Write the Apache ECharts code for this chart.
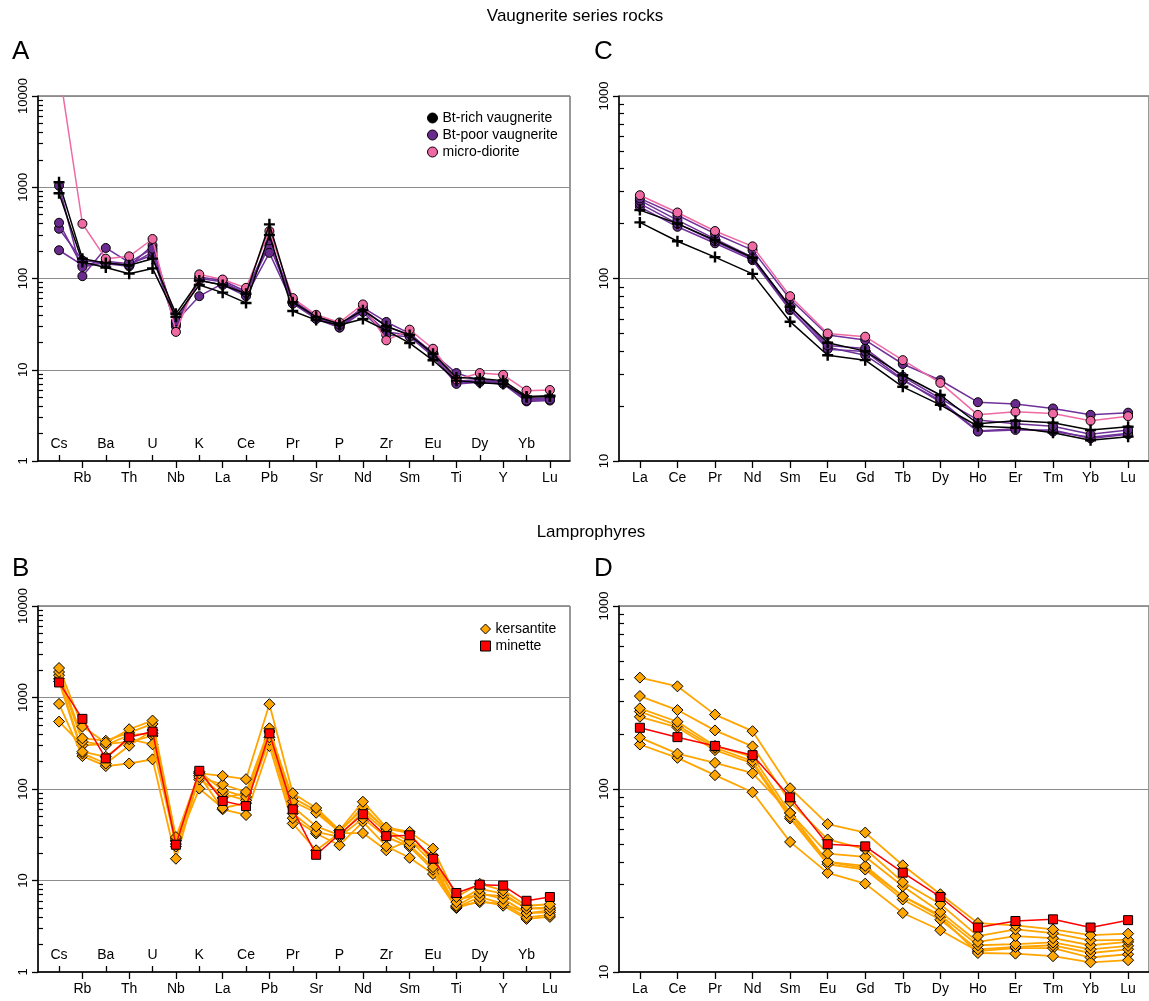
<!DOCTYPE html>
<html>
<head>
<meta charset="utf-8">
<title>Vaugnerite series rocks and lamprophyres – spider diagrams</title>
<script src="https://cdn.jsdelivr.net/npm/echarts@6/dist/echarts.min.js"></script>
<style>
  html, body { margin: 0; padding: 0; background: #fff; }
  #chart { width: 1149px; height: 1001px; }
</style>
</head>
<body>
<div id="chart"></div>
<script>
// ---- element lists -------------------------------------------------------
const traceElems = ['Cs','Rb','Ba','Th','U','Nb','K','La','Ce','Pb','Pr','Sr','P','Nd','Zr','Sm','Eu','Ti','Dy','Y','Yb','Lu'];
const reeElems   = ['La','Ce','Pr','Nd','Sm','Eu','Gd','Tb','Dy','Ho','Er','Tm','Yb','Lu'];

// ---- y-axis decades ------------------------------------------------------
const traceTicks = [1, 10, 100, 1000, 10000];
const reeTicks   = [10, 100, 1000];

// ---- A: vaugnerite series, multi-element (Cs ... Lu) ---------------------
const btRichA1  = [1135, 165, 148, 140, 165, 41, 95, 85, 68, 392, 55, 38, 32, 45, 30, 24, 15, 8.2, 8.0, 7.6, 5.1, 5.2];
const btRichA2  = [860, 152, 132, 113, 129, 38, 85, 70, 54, 300, 44, 35, 31, 36, 27, 19.6, 12.7, 7.6, 7.2, 7.0, 5.0, 5.1];
const btPoorA1  = [1040, 106, 216, 150, 212, 34, 64, 88, 70, 262, 57, 39, 31, 48, 33.4, 25, 15, 9.2, 7.6, 7.3, 4.6, 4.7];
const btPoorA2  = [408, 134, 150, 140, 195, 32, 96, 85, 64, 191, 53, 36, 29, 43, 24, 23, 14, 7.0, 7.3, 7.0, 4.5, 4.6];
const btPoorA3  = [351, 158, 145, 136, 231, 33, 100, 92, 68, 231, 54, 37, 29, 45, 26, 24, 14.5, 7.2, 7.5, 7.2, 4.7, 4.8];
const btPoorA4  = [204, 140, 155, 145, 180, 30, 104, 95, 72, 240, 58, 38, 30, 46, 30, 24, 15.5, 7.5, 7.8, 7.4, 4.8, 4.9];
const dioriteA1 = [20000, 398, 165, 175, 271, 26, 111, 97.5, 79, 331, 61, 40, 33, 52, 21, 27.5, 17, 7.8, 9.2, 8.8, 5.9, 6.0];

// ---- C: vaugnerite series, REE (La ... Lu) -------------------------------
const btRichC1  = [237, 200, 162, 130, 70, 44.5, 40, 29.5, 23, 16, 16.6, 16.2, 14.8, 15.4];
const btRichC2  = [203, 160, 131, 106, 58, 38, 35.7, 25.5, 20.3, 15.5, 15.2, 14.3, 13.0, 13.6];
const btPoorC1  = [275, 222, 176, 143, 77, 49, 46, 34, 27.7, 21, 20.5, 19.4, 17.9, 18.4];
const btPoorC2  = [268, 209, 165, 131, 70, 43, 41.4, 29, 22, 16.8, 16.0, 15.5, 14.0, 14.8];
const btPoorC3  = [257, 200, 160, 128, 68, 41, 39.8, 28, 21, 14.5, 14.8, 14.8, 13.3, 14.0];
const btPoorC4  = [247, 192, 156, 126, 67, 42, 38, 27.7, 21.5, 14.6, 15.0, 14.5, 13.5, 14.2];
const dioriteC1 = [286, 230, 182, 150, 80, 50, 48, 35.7, 26.8, 17.9, 18.6, 18.2, 16.6, 17.6];

// ---- B: lamprophyres, multi-element --------------------------------------
const kersB1 = [2100, 481, 321, 450, 560, 29.8, 148, 139, 128, 845, 90, 62, 35.4, 72.6, 38, 34, 22.3, 6.6, 9.2, 7.8, 5.3, 5.5];
const kersB2 = [1900, 358, 337, 413, 514, 28.5, 135, 112, 93, 461, 73, 55, 33.9, 64, 35.5, 27, 18.8, 5.8, 8.1, 7.2, 4.9, 5.1];
const kersB3 = [1750, 329, 302, 389, 406, 27.3, 155, 97, 82, 431, 64, 39, 31.4, 56, 34, 24.3, 14, 5.3, 7.3, 6.3, 4.4, 4.7];
const kersB4 = [1600, 256, 225, 350, 308, 25, 127, 89, 75, 367, 54, 34, 30, 47.7, 30, 23.3, 13.1, 5.1, 6.6, 5.6, 3.95, 4.2];
const kersB5 = [1500, 245, 190, 297, 440, 23.5, 101, 62, 70, 343, 48, 32.6, 24.3, 43.8, 23.7, 17.7, 11.8, 5.0, 6.0, 5.3, 3.8, 4.0];
const kersB6 = [852, 229, 178, 190, 211, 17.3, 140, 60, 52, 295, 42, 21.4, 33, 33, 21.4, 27.5, 15.5, 5.2, 5.8, 5.6, 4.4, 4.5];
const kersB7 = [545, 300, 310, 330, 380, 27, 150, 80, 90, 420, 80, 58, 35, 60, 37, 33, 16, 6.2, 7.0, 6.8, 5.0, 4.9];
const minetteB1 = [1460, 584, 216, 367, 424, 24.6, 158, 74, 65, 406, 60, 19.1, 32, 53, 30.5, 31.2, 17.3, 7.3, 9.0, 8.8, 6.0, 6.6];

// ---- D: lamprophyres, REE ------------------------------------------------
const kersD1 = [406, 364, 255, 207, 101, 64.3, 57.8, 38.3, 26.6, 18.5, 18.0, 17.1, 15.9, 16.2];
const kersD2 = [322, 270, 209, 171, 85, 53, 47, 31, 23.5, 15.7, 17.1, 16.3, 14.9, 15.0];
const kersD3 = [276, 233, 172, 150, 74, 44.4, 42.6, 29.4, 21.3, 14.6, 15.7, 15.3, 14.0, 14.6];
const kersD4 = [265, 223, 168, 142, 70.5, 40, 38, 25.9, 20.4, 14.0, 14.2, 14.5, 13.3, 13.9];
const kersD5 = [248, 217, 163, 138, 69, 38.8, 36.3, 24.9, 19.3, 13.3, 13.7, 14.0, 12.7, 13.3];
const kersD6 = [191, 156, 139, 122, 74, 40, 37, 26, 20, 12.7, 12.6, 12.2, 11.3, 11.6];
const kersD7 = [175, 148, 119, 96, 51.4, 34.8, 30.4, 21, 16.9, 13.0, 13.5, 13.5, 12.0, 12.5];
const minetteD1 = [216, 192, 172, 153, 90, 49.9, 48.6, 34.9, 25.7, 17.5, 19.0, 19.4, 17.5, 19.2];

// ---- styling ---------------------------------------------------------------
const FONT = "'Liberation Sans', Arial, Helvetica, sans-serif";
const PLUS = 'path://M3.9,0H6.1V3.9H10V6.1H6.1V10H3.9V6.1H0V3.9H3.9Z';
const KINDS = {
  'Bt-rich vaugnerite': { symbol: PLUS, size: 11, fill: '#000000', line: '#000000', border: 0 },
  'Bt-poor vaugnerite': { symbol: 'circle', size: 9, fill: '#6a2b8e', line: '#70319a', border: 1 },
  'micro-diorite':      { symbol: 'circle', size: 9, fill: '#ef6aa3', line: '#ef6aa3', border: 1 },
  'kersantite':         { symbol: 'diamond', size: 11, fill: '#ffa500', line: '#ffa500', border: 1 },
  'minette':            { symbol: 'rect', size: 9, fill: '#ff0000', line: '#ff0000', border: 1 }
};

// draw order within each panel (later = on top)
const panels = [
  { grid: 0, elems: traceElems, sets: [
      ['Bt-poor vaugnerite', btPoorA4], ['Bt-poor vaugnerite', btPoorA3], ['Bt-poor vaugnerite', btPoorA2], ['Bt-poor vaugnerite', btPoorA1],
      ['micro-diorite', dioriteA1], ['Bt-rich vaugnerite', btRichA2], ['Bt-rich vaugnerite', btRichA1]] },
  { grid: 1, elems: reeElems, sets: [
      ['Bt-poor vaugnerite', btPoorC4], ['Bt-poor vaugnerite', btPoorC3], ['Bt-poor vaugnerite', btPoorC2], ['Bt-poor vaugnerite', btPoorC1],
      ['micro-diorite', dioriteC1], ['Bt-rich vaugnerite', btRichC2], ['Bt-rich vaugnerite', btRichC1]] },
  { grid: 2, elems: traceElems, sets: [
      ['kersantite', kersB7], ['kersantite', kersB6], ['kersantite', kersB5], ['kersantite', kersB4],
      ['kersantite', kersB3], ['kersantite', kersB2], ['kersantite', kersB1], ['minette', minetteB1]] },
  { grid: 3, elems: reeElems, sets: [
      ['kersantite', kersD7], ['kersantite', kersD6], ['kersantite', kersD5], ['kersantite', kersD4],
      ['kersantite', kersD3], ['kersantite', kersD2], ['kersantite', kersD1], ['minette', minetteD1]] }
];

// ---- axes ------------------------------------------------------------------
const range = n => Array.from({ length: n }, (_, i) => i);
const evens = n => range(n).filter(i => i % 2 === 0);
const odds  = n => range(n).filter(i => i % 2 === 1);

// minor ticks at 2..9 of every decade, expressed as log10 positions
function minorLogs(fromExp, toExp) {
  const out = [];
  for (let e = fromExp; e < toExp; e++) for (let k = 2; k <= 9; k++) out.push(e + Math.log10(k));
  return out;
}

const labelStyle = { color: '#000', fontSize: 14, fontFamily: FONT };
const xAxes = [];
const yAxes = [];

function addAxes(gi, elems, minX, maxX, split, yMin, yMax, majors) {
  const n = elems.length;
  const fmt = v => elems[Math.round(v)] || '';
  if (split) {
    // alternating labels: even positions above the axis, odd positions below
    xAxes.push({
      type: 'value', gridIndex: gi, position: 'bottom', min: minX, max: maxX,
      axisLine: { show: true, onZero: false, lineStyle: { color: '#000', width: 1.5 } },
      splitLine: { show: false },
      axisTick: { show: true, inside: true, length: 6, customValues: evens(n), lineStyle: { color: '#000', width: 1.3 } },
      axisLabel: Object.assign({ inside: true, margin: 10, customValues: evens(n), formatter: fmt }, labelStyle)
    });
    xAxes.push({
      type: 'value', gridIndex: gi, position: 'bottom', min: minX, max: maxX,
      axisLine: { show: false, onZero: false },
      splitLine: { show: false },
      axisTick: { show: true, inside: false, length: 7, customValues: odds(n), lineStyle: { color: '#000', width: 1.3 } },
      axisLabel: Object.assign({ inside: false, margin: 10, customValues: odds(n), formatter: fmt }, labelStyle)
    });
  } else {
    xAxes.push({
      type: 'value', gridIndex: gi, position: 'bottom', min: minX, max: maxX,
      axisLine: { show: true, onZero: false, lineStyle: { color: '#000', width: 1.5 } },
      splitLine: { show: false },
      axisTick: { show: true, inside: false, length: 7, customValues: range(n), lineStyle: { color: '#000', width: 1.3 } },
      axisLabel: Object.assign({ inside: false, margin: 10, customValues: range(n), formatter: fmt }, labelStyle)
    });
    xAxes.push({ type: 'value', gridIndex: gi, position: 'bottom', min: minX, max: maxX, show: false,
                 axisLine: { onZero: false } });
  }
  yAxes.push({
    type: 'log', logBase: 10, gridIndex: gi, position: 'left', min: yMin, max: yMax,
    axisLine: { show: true, onZero: false, lineStyle: { color: '#000', width: 1.5 } },
    axisTick: { show: true, inside: false, length: 6, customValues: majors, lineStyle: { color: '#000', width: 1.3 } },
    axisLabel: { rotate: 90, margin: 8, customValues: majors, formatter: v => String(Math.round(v)),
                 color: '#000', fontSize: 13, fontFamily: FONT },
    splitLine: { show: true, lineStyle: { color: '#8c8c8c', width: 1 } }
  });
  const e0 = Math.round(Math.log10(yMin)), e1 = Math.round(Math.log10(yMax));
  // companion axis in log10 units carrying the 2..9 minor ticks
  yAxes.push({
    type: 'value', gridIndex: gi, position: 'left', min: e0, max: e1,
    axisLine: { show: false, onZero: false },
    axisLabel: { show: false },
    splitLine: { show: false },
    axisTick: { show: true, inside: true, length: 5, customValues: minorLogs(e0, e1), lineStyle: { color: '#000', width: 1.2 } }
  });
}

addAxes(0, traceElems, -0.9, 21.86, true, 1, 10000, traceTicks);
addAxes(1, reeElems, -0.556, 13.556, false, 10, 1000, reeTicks);
addAxes(2, traceElems, -0.9, 21.86, true, 1, 10000, traceTicks);
addAxes(3, reeElems, -0.556, 13.556, false, 10, 1000, reeTicks);

// ---- series ----------------------------------------------------------------
const series = [];
panels.forEach(p => {
  p.sets.forEach(([name, values], k) => {
    const s = KINDS[name];
    series.push({
      type: 'line', name,
      xAxisIndex: p.grid * 2, yAxisIndex: p.grid * 2,
      data: values.map((v, i) => [i, v]),
      symbol: s.symbol, symbolSize: s.size, showSymbol: true,
      lineStyle: { color: s.line, width: name === 'kersantite' ? 1.8 : 1.5 },
      itemStyle: { color: s.fill, borderColor: '#000', borderWidth: s.border, opacity: 1 },
      emphasis: { disabled: true },
      clip: true,
      z: 2 + k * 0.01
    });
  });
});

const legendItem = name => ({
  name, icon: KINDS[name].symbol === PLUS ? 'circle' : KINDS[name].symbol,
  itemStyle: { color: KINDS[name].fill, borderColor: '#000', borderWidth: 1 }
});

const titleText = (text, left, top, size, align) => ({
  text, left, top, padding: 0, textAlign: align || 'left',
  textStyle: { fontSize: size, fontWeight: 'normal', color: '#000', fontFamily: FONT }
});

const option = {
  animation: false,
  backgroundColor: '#ffffff',
  title: [
    titleText('Vaugnerite series rocks', 575, 8, 17, 'center'),
    titleText('Lamprophyres', 591, 524, 17, 'center'),
    titleText('A', 12, 39, 26),
    titleText('C', 594, 39, 26),
    titleText('B', 12, 556, 26),
    titleText('D', 594, 556, 26)
  ],
  legend: [
    { data: ['Bt-rich vaugnerite', 'Bt-poor vaugnerite', 'micro-diorite'].map(legendItem),
      orient: 'vertical', left: 422, top: 106, itemWidth: 10, itemHeight: 10, itemGap: 3,
      selectedMode: false, textStyle: { fontSize: 14, color: '#000', fontFamily: FONT } },
    { data: ['kersantite', 'minette'].map(legendItem),
      orient: 'vertical', left: 475, top: 617, itemWidth: 10, itemHeight: 10, itemGap: 3,
      selectedMode: false, textStyle: { fontSize: 14, color: '#000', fontFamily: FONT } }
  ],
  grid: [
    { left: 38,  top: 96,  width: 532, height: 365, show: true, borderColor: '#333', borderWidth: 1, containLabel: false },
    { left: 619, top: 96,  width: 533, height: 365, show: true, borderColor: '#333', borderWidth: 1, containLabel: false },
    { left: 38,  top: 606, width: 532, height: 366, show: true, borderColor: '#333', borderWidth: 1, containLabel: false },
    { left: 619, top: 606, width: 533, height: 366, show: true, borderColor: '#333', borderWidth: 1, containLabel: false }
  ],
  xAxis: xAxes,
  yAxis: yAxes,
  series
};

const chart = echarts.init(document.getElementById('chart'), null, { renderer: 'canvas' });
chart.setOption(option);
</script>
</body>
</html>
